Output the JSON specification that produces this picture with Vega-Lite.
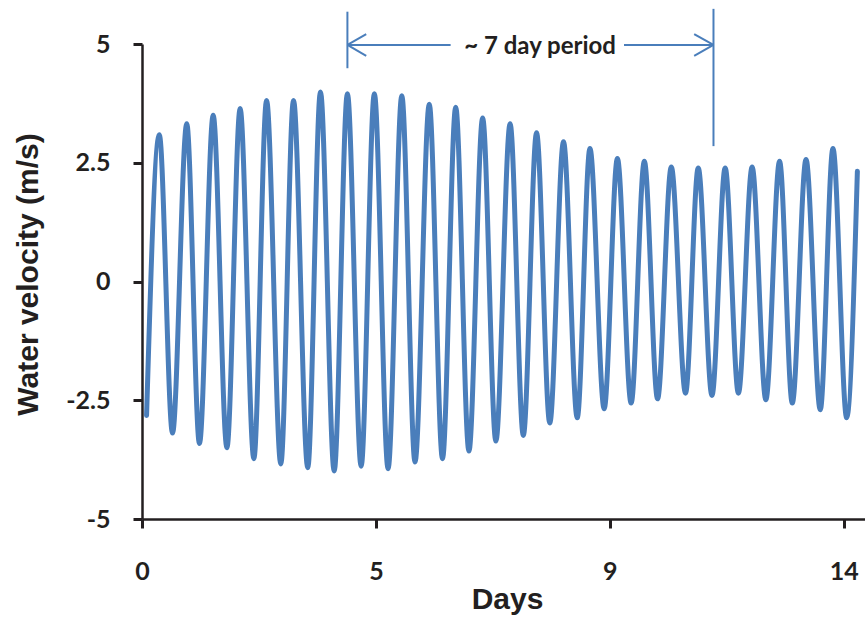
{
  "$schema": "https://vega.github.io/schema/vega-lite/v6.json",
  "autosize": {"type": "none"},
  "width": 723,
  "height": 475,
  "padding": {"left": 142, "top": 44, "right": 0, "bottom": 103},
  "background": "white",
  "config": {"view": {"stroke": null}},
  "datasets": {
    "series": [
      {"day": 0.09, "v": -2.82},
      {"day": 0.34, "v": 3.09},
      {"day": 0.60, "v": -3.19},
      {"day": 0.88, "v": 3.32},
      {"day": 1.13, "v": -3.41},
      {"day": 1.40, "v": 3.50},
      {"day": 1.67, "v": -3.50},
      {"day": 1.93, "v": 3.64},
      {"day": 2.20, "v": -3.73},
      {"day": 2.45, "v": 3.81},
      {"day": 2.73, "v": -3.84},
      {"day": 2.98, "v": 3.81},
      {"day": 3.26, "v": -3.92},
      {"day": 3.51, "v": 3.99},
      {"day": 3.78, "v": -3.99},
      {"day": 4.04, "v": 3.95},
      {"day": 4.31, "v": -3.89},
      {"day": 4.57, "v": 3.95},
      {"day": 4.84, "v": -3.94},
      {"day": 5.11, "v": 3.91},
      {"day": 5.37, "v": -3.80},
      {"day": 5.65, "v": 3.73},
      {"day": 5.91, "v": -3.73},
      {"day": 6.17, "v": 3.67},
      {"day": 6.43, "v": -3.57},
      {"day": 6.70, "v": 3.44},
      {"day": 6.96, "v": -3.36},
      {"day": 7.24, "v": 3.32},
      {"day": 7.50, "v": -3.24},
      {"day": 7.76, "v": 3.13},
      {"day": 8.02, "v": -2.98},
      {"day": 8.29, "v": 2.94},
      {"day": 8.56, "v": -2.87},
      {"day": 8.81, "v": 2.80},
      {"day": 9.09, "v": -2.68},
      {"day": 9.35, "v": 2.59},
      {"day": 9.62, "v": -2.56},
      {"day": 9.88, "v": 2.53},
      {"day": 10.14, "v": -2.47},
      {"day": 10.41, "v": 2.41},
      {"day": 10.69, "v": -2.35},
      {"day": 10.94, "v": 2.39},
      {"day": 11.21, "v": -2.40},
      {"day": 11.47, "v": 2.39},
      {"day": 11.73, "v": -2.35},
      {"day": 12.00, "v": 2.41},
      {"day": 12.27, "v": -2.49},
      {"day": 12.54, "v": 2.53},
      {"day": 12.79, "v": -2.56},
      {"day": 13.06, "v": 2.57},
      {"day": 13.34, "v": -2.70},
      {"day": 13.59, "v": 2.80},
      {"day": 13.86, "v": -2.87},
      {"day": 14.07, "v": 2.32}
    ],
    "marks": [
      {"day": 4.04, "v": 5.68, "day2": 4.04, "v2": 4.49},
      {"day": 11.24, "v": 5.74, "day2": 11.24, "v2": 2.85},
      {"day": 4.04, "v": 4.98, "day2": 6.07, "v2": 4.98},
      {"day": 9.48, "v": 4.98, "day2": 11.24, "v2": 4.98},
      {"day": 4.04, "v": 4.98, "day2": 4.41, "v2": 5.21},
      {"day": 4.04, "v": 4.98, "day2": 4.41, "v2": 4.75},
      {"day": 11.24, "v": 4.98, "day2": 10.86, "v2": 5.21},
      {"day": 11.24, "v": 4.98, "day2": 10.86, "v2": 4.75}
    ],
    "labels": [
      {"day": 7.83, "v": 4.80, "text": "~ 7 day period"}
    ]
  },
  "encoding": {
    "x": {
      "field": "day", "type": "quantitative",
      "scale": {"domain": [0, 14.22], "nice": false, "zero": false},
      "axis": {
        "title": "Days",
        "values": [0, 4.6, 9.2, 13.8],
        "format": ".0f",
        "grid": false,
        "domainColor": "#231f20", "domainWidth": 2.5,
        "tickColor": "#231f20", "tickWidth": 3, "tickSize": 9,
        "labelFont": "Lato", "labelFontWeight": "bold", "labelFontSize": 25, "labelColor": "#231f20",
        "labelBaseline": "alphabetic", "labelPadding": 51, "labelAlign": "center",
        "labelFlush": false, "labelOverlap": false,
        "titleFont": "Liberation Sans", "titleFontWeight": "bold", "titleFontSize": 30, "titleColor": "#231f20",
        "titleX": 365, "titleY": 89, "titleBaseline": "alphabetic", "titleAlign": "center"
      }
    },
    "y": {
      "field": "v", "type": "quantitative",
      "scale": {"domain": [-5, 5], "nice": false, "zero": false},
      "axis": {
        "title": "Water velocity (m/s)",
        "values": [-5, -2.5, 0, 2.5, 5],
        "labelExpr": "toString(datum.value)",
        "grid": false,
        "domainColor": "#231f20", "domainWidth": 2.5,
        "tickColor": "#231f20", "tickWidth": 3, "tickSize": 9,
        "labelFont": "Lato", "labelFontWeight": "bold", "labelFontSize": 25, "labelColor": "#231f20",
        "labelPadding": 23, "labelBaseline": "middle", "labelFlush": false, "labelOverlap": false,
        "titleFont": "Liberation Sans", "titleFontWeight": "bold", "titleFontSize": 30, "titleColor": "#231f20",
        "titleAngle": -90, "titleX": -105, "titleY": 230, "titleBaseline": "alphabetic", "titleAlign": "center"
      }
    }
  },
  "layer": [
    {
      "data": {"name": "series"},
      "mark": {"type": "line", "interpolate": "monotone", "color": "#4a7ebb", "strokeWidth": 5, "strokeCap": "round", "strokeJoin": "round", "clip": false}
    },
    {
      "data": {"name": "marks"},
      "mark": {"type": "rule", "color": "#4a7ebb", "strokeWidth": 2, "clip": false},
      "encoding": {
        "x2": {"field": "day2"},
        "y2": {"field": "v2"}
      }
    },
    {
      "data": {"name": "labels"},
      "mark": {"type": "text", "font": "Lato", "fontWeight": "bold", "fontSize": 24, "color": "#231f20", "align": "center", "baseline": "alphabetic", "clip": false},
      "encoding": {
        "text": {"field": "text"}
      }
    }
  ]
}
